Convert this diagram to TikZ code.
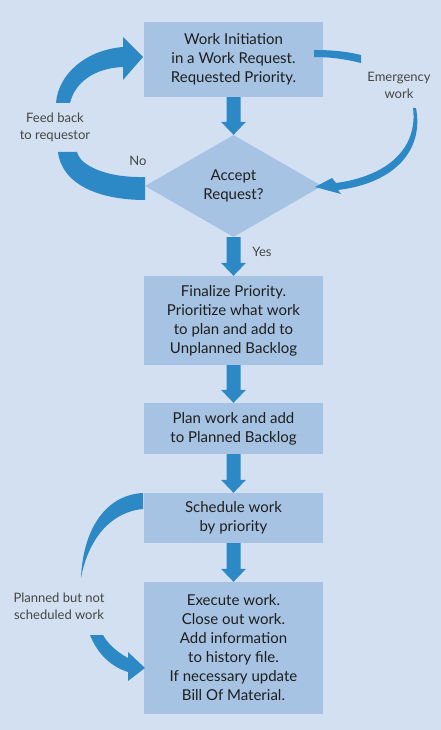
\documentclass[tikz,border=0pt]{standalone}
\usepackage{fontspec}
\setmainfont{Lato}
\usetikzlibrary{shapes.geometric,calc}
\definecolor{bgc}{HTML}{D3E0F1}
\definecolor{boxc}{HTML}{A6C3E3}
\definecolor{arrc}{HTML}{2D89C5}
\definecolor{txtc}{HTML}{1E1E1E}
\definecolor{lblc}{HTML}{454545}
\newcommand\fatdown[2]{%
  \fill[arrc] ($(#1.south)+(-7,0)$) -- ($(#2.north)+(-7,-13)$) -- ($(#2.north)+(-12.5,-13)$)
    -- (#2.north) -- ($(#2.north)+(12.5,-13)$) -- ($(#2.north)+(7,-13)$) -- ($(#1.south)+(7,0)$) -- cycle;}
\tikzset{
  box/.style={fill=boxc, text=txtc, minimum width=179pt, inner sep=0pt, align=center,
    font=\fontsize{15}{19}\selectfont},
  dia/.style={diamond, fill=boxc, text=txtc, minimum width=177pt, minimum height=102pt,
    inner sep=0pt, align=center, font=\fontsize{15}{19}\selectfont},
  lbl/.style={text=lblc, align=center, inner sep=0pt, font=\fontsize{13}{17}\selectfont},
  band/.style={fill=arrc}
}
\begin{document}
\begin{tikzpicture}[x=1pt,y=-1pt]
\fill[bgc] (0,0) rectangle (441,730);
\useasboundingbox (0,0) rectangle (441,730);

\node[box, minimum height=75pt] (b1) at (233.5,59.5) {Work Initiation\\in a Work Request.\\Requested Priority.};
\node[dia] (d) at (233.5,186) {Accept\\Request?};
\node[box, minimum height=89pt] (b2) at (233.5,320.5) {Finalize Priority.\\Prioritize what work\\to plan and add to\\Unplanned Backlog};
\node[box, minimum height=51pt] (b3) at (233.5,428.5) {Plan work and add\\to Planned Backlog};
\node[box, minimum height=50pt] (b4) at (233.5,518) {Schedule work\\by priority};
\node[box, minimum height=132pt] (b5) at (233.5,648) {Execute work.\\Close out work.\\Add information\\to history file.\\If necessary update\\Bill Of Material.};

\node[lbl] (lf) at (55,127) {Feed back\\to requestor};
\node[lbl] (lno) at (138,161) {No};
\node[lbl] (lem) at (399,85) {Emergency\\work};
\node[lbl] (lyes) at (262,252) {Yes};
\node[lbl] (lpl) at (59,606) {Planned but not\\scheduled work};

% straight down arrows
\fatdown{b1}{d}
\fatdown{d}{b2}
\fatdown{b2}{b3}
\fatdown{b3}{b4}
\fatdown{b4}{b5}

% feed back to requestor (upper part, arrow into b1)
\fill[band] (56,103) .. controls (58,75) and (85,50) .. (123,47)
  -- (123,37) -- (143,57) -- (123,80) -- (123,67)
  .. controls (95,68) and (75,82) .. (70,103) -- cycle;
% feed back (lower part, from diamond)
\fill[band] (58,152) .. controls (62,185) and (100,200) .. (145,200)
  -- (145,177) .. controls (105,178) and (80,165) .. (77,152) -- cycle;

% emergency work
\fill[band] (314,50) .. controls (330,50) and (345,51) .. (361,55)
  -- (361,63) .. controls (345,59) and (330,57) .. (314,57) -- cycle;
\fill[band] (413,108) -- (416,108) .. controls (424,150) and (395,183) .. (338,190)
  -- (341,194) -- (315,187) -- (332,178) -- (336,183)
  .. controls (388,176) and (418,148) .. (413,108) -- cycle;

% planned but not scheduled
\fill[band] (143,493) .. controls (105,495) and (83,530) .. (81,578)
  .. controls (88,540) and (110,512) .. (143,509) -- cycle;
\fill[band] (90,635) .. controls (98,655) and (112,667) .. (128,672)
  -- (128,681) -- (145,668) -- (128,652) -- (128,658)
  .. controls (117,652) and (108,644) .. (103,635) -- cycle;
\end{tikzpicture}
\end{document}
